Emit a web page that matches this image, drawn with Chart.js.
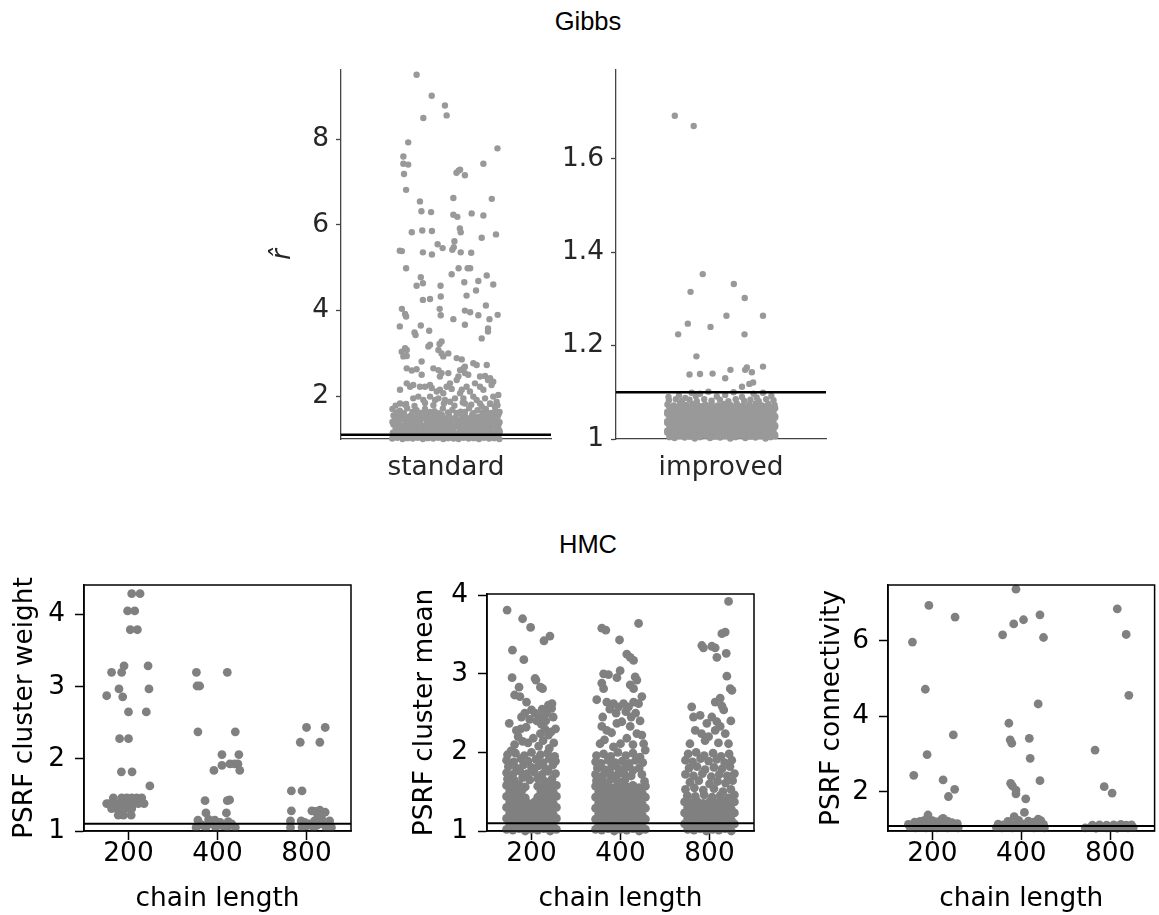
<!DOCTYPE html>
<html><head><meta charset="utf-8">
<script src="https://cdn.jsdelivr.net/npm/chart.js@4.4.0/dist/chart.umd.min.js"></script>
<style>
html,body{margin:0;padding:0;background:#fff;}
#wrap{position:relative;width:1159px;height:915px;overflow:hidden;background:#fff;}
canvas{position:absolute;left:0;top:0;}
.sup{position:absolute;font-family:'Liberation Sans',Arial,sans-serif;font-size:25.5px;color:#000;transform:translate(-50%,-50%);line-height:1;white-space:nowrap;}
</style></head><body>
<div id="wrap">
<div class="sup" style="left:588px;top:22px">Gibbs</div>
<div class="sup" style="left:588px;top:545px">HMC</div>
<canvas id="c0" width="1159" height="915"></canvas>
<canvas id="c1" width="1159" height="915"></canvas>
<canvas id="c2" width="1159" height="915"></canvas>
<canvas id="c3" width="1159" height="915"></canvas>
<canvas id="c4" width="1159" height="915"></canvas>
</div>
<script>
// ---------------- DATA ----------------
const gibbsCategories = ['standard', 'improved'];
const hmcCategories = ['200', '400', '800'];
const gibbsStdTicks = [2, 4, 6, 8];
const gibbsImpTicks = [1, 1.2, 1.4, 1.6];
const hmcWeightTicks = [1, 2, 3, 4];
const hmcMeanTicks = [1, 2, 3, 4];
const hmcConnTicks = [2, 4, 6];
const psrfThreshold = 1.1;

// each point: [jitter (category units), value]
const gibbsStandard = [
 [-0.14,9.51],[-0.068,9.02],[-0.005,8.79],[-0.108,8.5],[0.003,8.56],[-0.18,7.93],[0.245,7.79],[-0.203,7.6],[-0.203,7.43],[-0.18,7.41],
 [0.178,7.43],[-0.2,7.19],[0.06,7.27],[0.067,7.29],[0.05,7.22],[0.09,7.16],[-0.19,6.82],[-0.124,6.55],[0.035,6.63],[0.218,6.61],
 [-0.117,6.32],[-0.071,6.3],[0.035,6.24],[0.054,6.19],[0.122,6.27],[0.178,6.22],[-0.163,5.83],[-0.113,5.87],[-0.067,5.86],[0.066,5.92],
 [0.07,5.83],[0.17,5.7],[0.238,5.78],[-0.22,5.4],[-0.21,5.39],[-0.11,5.36],[-0.067,5.31],[-0.04,5.55],[-0.016,5.46],[0.03,5.42],
 [0.037,5.48],[0.04,5.62],[0.07,5.36],[0.12,5.35],[-0.19,4.99],[0.06,4.99],[0.103,4.99],[0.115,4.99],[-0.12,4.78],[-0.11,4.64],
 [-0.14,4.58],[-0.026,4.58],[0.027,4.85],[0.087,4.66],[0.143,4.47],[0.098,4.35],[0.154,4.69],[0.194,4.82],[0.225,4.61],[-0.11,4.25],
 [-0.076,4.27],[-0.025,4.33],[-0.21,4.04],[-0.195,3.92],[-0.19,3.86],[-0.03,4.04],[-0.025,3.89],[0.035,3.8],[0.09,4.0],[0.115,3.96],
 [0.154,3.89],[0.19,4.12],[0.207,3.8],[0.246,3.9],[-0.22,3.63],[-0.12,3.65],[-0.15,3.49],[-0.145,3.43],[-0.08,3.53],[0.09,3.67],
 [0.2,3.58],[0.2,3.51],[0.17,3.35],
 [-0.195,3.12],[-0.187,3.08],[-0.211,3.04],[-0.076,3.2],[-0.084,3.16],[-0.021,3.28],[-0.031,3.22],[-0.203,2.93],[-0.187,2.94],[-0.116,2.81],
 [-0.036,3.08],[-0.021,3.0],[-0.013,2.93],[0.011,3.0],[0.051,2.89],[0.075,2.86],[0.13,2.77],[0.146,2.73],[0.194,2.73],[0.067,2.61],
 [0.083,2.65],[0.09,2.69],[-0.187,2.65],[-0.163,2.6],[-0.14,2.63],[-0.116,2.5],[-0.06,2.65],[-0.036,2.61],[-0.021,2.54],[-0.029,2.46],
 [0.011,2.54],[0.059,2.46],[0.051,2.38],[0.09,2.54],[0.106,2.5],[0.162,2.46],[0.186,2.47],[0.21,2.42],[0.225,2.34],[-0.187,2.3],
 [-0.171,2.22],[-0.156,2.26],[-0.219,2.15],[-0.124,2.22],[-0.1,2.22],[-0.076,2.26],[-0.068,2.19],[-0.044,2.11],[-0.029,2.15],[-0.013,2.07],
 [0.003,2.22],[0.019,2.3],[0.027,2.17],[0.075,2.15],[0.098,2.22],[0.114,2.11],[0.138,2.3],[0.162,2.22],[0.178,2.15],[0.2,2.38],
 [0.217,2.26],[0.249,2.03],[0.225,1.99],[-0.156,1.95],[-0.132,1.99],[-0.108,1.91],[-0.219,1.83],[-0.195,1.8],[-0.076,1.99],[-0.052,1.91],
 [-0.036,1.95],[-0.005,1.91],[0.019,1.87],[0.043,1.95],[0.067,2.07],[0.083,1.95],[0.09,1.83],[0.13,1.99],[0.146,1.91],[0.162,1.83],
 [0.186,1.95],[0.21,1.83],[0.233,1.76],[0.241,1.87],
 [-0.24,1.78],[-0.19,1.82],[-0.15,1.77],[-0.1,1.84],[-0.06,1.79],[-0.01,1.83],[0.04,1.78],[0.08,1.85],[0.12,1.8],[0.17,1.76],[0.21,1.82],[0.245,1.79],
 [-0.255,1.7],[-0.22,1.66],[-0.185,1.72],[-0.14,1.67],[-0.1,1.7],[-0.055,1.65],[-0.015,1.71],[0.03,1.68],[0.07,1.64],[0.11,1.72],[0.15,1.67],[0.19,1.7],[0.235,1.66],
 [-0.235,1.62],[-0.2,1.6],[-0.16,1.63],[-0.12,1.61],[-0.075,1.63],[-0.035,1.6],[0.01,1.62],[0.05,1.61],[0.09,1.63],[0.13,1.6],[0.175,1.62],[0.215,1.61],[0.255,1.63],
 [-0.25,1.55],[-0.215,1.58],[-0.17,1.54],[-0.135,1.57],[-0.095,1.6],[-0.06,1.53],[-0.02,1.57],[0.015,1.55],[0.055,1.59],[0.09,1.54],[0.125,1.57],[0.16,1.52],[0.195,1.6],[0.225,1.56],[0.25,1.58],
 [-0.23,1.5],[-0.19,1.51],[-0.155,1.49],[-0.12,1.52],[-0.085,1.5],[-0.045,1.51],[-0.01,1.49],[0.045,1.5],[0.08,1.52],[0.115,1.49],[0.15,1.51],[0.18,1.49],[0.215,1.52],[0.245,1.5],
 [-0.245,1.44],[-0.21,1.47],[-0.18,1.43],[-0.145,1.46],[-0.11,1.48],[-0.07,1.44],[-0.035,1.46],[0.0,1.43],[0.03,1.47],[0.07,1.45],[0.1,1.42],[0.135,1.48],[0.165,1.44],[0.2,1.46],[0.235,1.43],
 [-0.255,1.4],[-0.225,1.39],[-0.19,1.41],[-0.16,1.4],[-0.125,1.39],[-0.09,1.41],[-0.055,1.4],[-0.02,1.39],[0.015,1.41],[0.05,1.39],[0.09,1.4],[0.12,1.41],[0.155,1.39],[0.185,1.41],[0.22,1.4],[0.255,1.39],
 [-0.25,1.34],[-0.222,1.37],[-0.196,1.33],[-0.16,1.36],[-0.13,1.38],[-0.1,1.32],[-0.075,1.35],[-0.04,1.37],[-0.01,1.33],[0.02,1.36],[0.05,1.34],[0.078,1.38],[0.105,1.32],[0.14,1.35],[0.17,1.37],[0.2,1.33],[0.228,1.36],[0.25,1.34],
 [-0.238,1.3],[-0.21,1.29],[-0.18,1.31],[-0.145,1.3],[-0.115,1.29],[-0.085,1.31],[-0.055,1.3],[-0.025,1.29],[0.005,1.31],[0.035,1.3],[0.065,1.29],[0.095,1.31],[0.125,1.3],[0.155,1.29],[0.185,1.31],[0.215,1.3],[0.245,1.29],
 [-0.24,1.24],[-0.215,1.27],[-0.19,1.23],[-0.165,1.26],[-0.14,1.24],[-0.115,1.28],[-0.09,1.22],[-0.065,1.25],[-0.04,1.27],[-0.015,1.23],[0.01,1.26],[0.035,1.24],[0.06,1.28],[0.085,1.22],[0.11,1.25],[0.135,1.27],[0.16,1.23],[0.185,1.26],[0.21,1.24],[0.235,1.28],[0.252,1.22],
 [-0.253,1.15],[-0.228,1.17],[-0.204,1.14],[-0.18,1.16],[-0.155,1.18],[-0.13,1.15],[-0.106,1.17],[-0.082,1.14],[-0.057,1.16],[-0.033,1.18],[-0.009,1.15],[0.016,1.17],[0.04,1.14],[0.064,1.16],[0.089,1.18],[0.113,1.15],[0.137,1.17],[0.162,1.14],[0.186,1.16],[0.21,1.18],[0.235,1.15],[0.256,1.17],
 [-0.244,1.08],[-0.22,1.06],[-0.195,1.09],[-0.171,1.07],[-0.147,1.08],[-0.122,1.1],[-0.098,1.06],[-0.074,1.09],[-0.049,1.07],[-0.025,1.08],[-0.001,1.1],[0.024,1.06],[0.048,1.08],[0.072,1.07],[0.096,1.09],[0.12,1.06],[0.145,1.08],[0.169,1.1],[0.193,1.07],[0.218,1.09],[0.242,1.06],
 [-0.256,1.01],[-0.232,1.03],[-0.207,1.0],[-0.183,1.02],[-0.158,1.01],[-0.134,1.03],[-0.11,1.0],[-0.086,1.02],[-0.061,1.01],[-0.037,1.03],[-0.013,1.0],[0.011,1.02],[0.036,1.01],[0.06,1.0],[0.084,1.03],[0.108,1.01],[0.132,1.02],[0.157,1.0],[0.181,1.03],[0.205,1.01],[0.23,1.02],[0.254,1.0]
];

const gibbsImproved = [
 [-0.22,1.692],[-0.13,1.67],[-0.087,1.353],[0.061,1.332],[-0.145,1.315],[0.113,1.302],[-0.158,1.247],[-0.05,1.24],[0.026,1.264],[0.2,1.264],
 [-0.204,1.224],[0.112,1.224],[-0.117,1.177],[-0.15,1.138],[-0.1,1.139],[-0.04,1.14],[0.02,1.13],[0.045,1.148],[0.123,1.153],[0.115,1.148],
 [0.147,1.143],[0.2,1.155],[0.1,1.112],[0.135,1.118],[0.153,1.121],
 [-0.14,1.099],[-0.1,1.097],[-0.06,1.101],[0.06,1.1],[0.2,1.099],[0.155,1.097],
 [-0.25,1.09],[-0.2,1.093],[-0.17,1.088],[-0.12,1.092],[-0.02,1.091],[0.02,1.094],[0.1,1.09],[0.17,1.089],[0.24,1.092],
 [-0.248,1.083],[-0.215,1.085],[-0.185,1.082],[-0.15,1.084],[-0.115,1.081],[-0.08,1.085],[-0.045,1.082],[-0.005,1.084],[0.035,1.081],[0.07,1.085],[0.11,1.082],[0.14,1.084],[0.18,1.081],[0.215,1.085],[0.25,1.083],
 [-0.255,1.074],[-0.225,1.072],[-0.195,1.076],[-0.165,1.073],[-0.135,1.075],[-0.105,1.071],[-0.075,1.074],[-0.045,1.076],[-0.015,1.072],[0.015,1.075],[0.045,1.073],[0.075,1.076],[0.105,1.071],[0.135,1.074],[0.165,1.076],[0.195,1.072],[0.225,1.075],[0.255,1.073],
 [-0.245,1.069],[-0.21,1.068],[-0.18,1.07],[-0.15,1.069],[-0.12,1.068],[-0.09,1.07],[-0.06,1.069],[-0.03,1.068],[0.0,1.07],[0.03,1.069],[0.06,1.068],[0.09,1.07],[0.12,1.069],[0.15,1.068],[0.18,1.07],[0.21,1.069],[0.24,1.068],
 [-0.245,1.064],[-0.221,1.062],[-0.197,1.066],[-0.173,1.063],[-0.149,1.065],[-0.125,1.061],[-0.1,1.064],[-0.076,1.067],[-0.052,1.062],[-0.028,1.065],[-0.004,1.063],[0.02,1.066],[0.044,1.061],[0.068,1.064],[0.092,1.067],[0.116,1.062],[0.14,1.065],[0.164,1.063],[0.188,1.066],[0.212,1.061],[0.236,1.064],[0.258,1.066],
 [-0.256,1.058],[-0.232,1.059],[-0.208,1.058],[-0.184,1.059],[-0.16,1.058],[-0.136,1.059],[-0.111,1.058],[-0.087,1.059],[-0.063,1.058],[-0.039,1.059],[-0.015,1.058],[0.009,1.059],[0.033,1.058],[0.057,1.059],[0.081,1.058],[0.105,1.059],[0.129,1.058],[0.153,1.059],[0.177,1.058],[0.201,1.059],[0.225,1.058],[0.249,1.059],
 [-0.256,1.054],[-0.232,1.052],[-0.208,1.056],[-0.184,1.053],[-0.16,1.055],[-0.136,1.051],[-0.111,1.054],[-0.087,1.057],[-0.063,1.052],[-0.039,1.055],[-0.015,1.053],[0.009,1.056],[0.033,1.051],[0.057,1.054],[0.081,1.057],[0.105,1.052],[0.129,1.055],[0.153,1.053],[0.177,1.056],[0.201,1.051],[0.225,1.054],[0.249,1.056],
 [-0.245,1.048],[-0.221,1.049],[-0.197,1.048],[-0.173,1.049],[-0.149,1.048],[-0.125,1.049],[-0.1,1.048],[-0.076,1.049],[-0.052,1.048],[-0.028,1.049],[-0.004,1.048],[0.02,1.049],[0.044,1.048],[0.068,1.049],[0.092,1.048],[0.116,1.049],[0.14,1.048],[0.164,1.049],[0.188,1.048],[0.212,1.049],[0.236,1.048],[0.258,1.049],
 [-0.245,1.044],[-0.221,1.042],[-0.197,1.046],[-0.173,1.043],[-0.149,1.045],[-0.125,1.041],[-0.1,1.044],[-0.076,1.047],[-0.052,1.042],[-0.028,1.045],[-0.004,1.043],[0.02,1.046],[0.044,1.041],[0.068,1.044],[0.092,1.047],[0.116,1.042],[0.14,1.045],[0.164,1.043],[0.188,1.046],[0.212,1.041],[0.236,1.044],[0.258,1.046],
 [-0.256,1.038],[-0.232,1.039],[-0.208,1.038],[-0.184,1.039],[-0.16,1.038],[-0.136,1.039],[-0.111,1.038],[-0.087,1.039],[-0.063,1.038],[-0.039,1.039],[-0.015,1.038],[0.009,1.039],[0.033,1.038],[0.057,1.039],[0.081,1.038],[0.105,1.039],[0.129,1.038],[0.153,1.039],[0.177,1.038],[0.201,1.039],[0.225,1.038],[0.249,1.039],
 [-0.256,1.034],[-0.232,1.032],[-0.208,1.036],[-0.184,1.033],[-0.16,1.035],[-0.136,1.031],[-0.111,1.034],[-0.087,1.037],[-0.063,1.032],[-0.039,1.035],[-0.015,1.033],[0.009,1.036],[0.033,1.031],[0.057,1.034],[0.081,1.037],[0.105,1.032],[0.129,1.035],[0.153,1.033],[0.177,1.036],[0.201,1.031],[0.225,1.034],[0.249,1.036],
 [-0.245,1.028],[-0.221,1.029],[-0.197,1.028],[-0.173,1.029],[-0.149,1.028],[-0.125,1.029],[-0.1,1.028],[-0.076,1.029],[-0.052,1.028],[-0.028,1.029],[-0.004,1.028],[0.02,1.029],[0.044,1.028],[0.068,1.029],[0.092,1.028],[0.116,1.029],[0.14,1.028],[0.164,1.029],[0.188,1.028],[0.212,1.029],[0.236,1.028],[0.258,1.029],
 [-0.245,1.024],[-0.221,1.022],[-0.197,1.026],[-0.173,1.023],[-0.149,1.025],[-0.125,1.021],[-0.1,1.024],[-0.076,1.027],[-0.052,1.022],[-0.028,1.025],[-0.004,1.023],[0.02,1.026],[0.044,1.021],[0.068,1.024],[0.092,1.027],[0.116,1.022],[0.14,1.025],[0.164,1.023],[0.188,1.026],[0.212,1.021],[0.236,1.024],[0.258,1.026],
 [-0.256,1.018],[-0.232,1.019],[-0.208,1.018],[-0.184,1.019],[-0.16,1.018],[-0.136,1.019],[-0.111,1.018],[-0.087,1.019],[-0.063,1.018],[-0.039,1.019],[-0.015,1.018],[0.009,1.019],[0.033,1.018],[0.057,1.019],[0.081,1.018],[0.105,1.019],[0.129,1.018],[0.153,1.019],[0.177,1.018],[0.201,1.019],[0.225,1.018],[0.249,1.019],
 [-0.256,1.014],[-0.232,1.012],[-0.208,1.016],[-0.184,1.013],[-0.16,1.015],[-0.136,1.011],[-0.111,1.014],[-0.087,1.017],[-0.063,1.012],[-0.039,1.015],[-0.015,1.013],[0.009,1.016],[0.033,1.011],[0.057,1.014],[0.081,1.017],[0.105,1.012],[0.129,1.015],[0.153,1.013],[0.177,1.016],[0.201,1.011],[0.225,1.014],[0.249,1.016],
 [-0.245,1.008],[-0.221,1.009],[-0.197,1.008],[-0.173,1.009],[-0.149,1.008],[-0.125,1.009],[-0.1,1.008],[-0.076,1.009],[-0.052,1.008],[-0.028,1.009],[-0.004,1.008],[0.02,1.009],[0.044,1.008],[0.068,1.009],[0.092,1.008],[0.116,1.009],[0.14,1.008],[0.164,1.009],[0.188,1.008],[0.212,1.009],[0.236,1.008],[0.258,1.009],
 [-0.245,1.004],[-0.221,1.002],[-0.197,1.006],[-0.173,1.003],[-0.149,1.005],[-0.125,1.001],[-0.1,1.004],[-0.076,1.007],[-0.052,1.002],[-0.028,1.005],[-0.004,1.003],[0.02,1.006],[0.044,1.001],[0.068,1.004],[0.092,1.007],[0.116,1.002],[0.14,1.005],[0.164,1.003],[0.188,1.006],[0.212,1.001],[0.236,1.004],[0.258,1.006]
];

const hmcWeight200 = [
 [-0.245,2.875],[-0.19,3.2],[-0.077,3.2],[-0.05,3.29],[-0.107,2.97],[-0.065,2.86],[0.0,2.65],[-0.1,2.28],[0.0,2.28],[-0.08,1.82],
 [0.04,1.82],[0.036,4.29],[0.13,4.29],[-0.01,4.05],[0.07,4.05],[0.02,3.79],[0.1,3.79],[0.22,3.29],[0.23,2.97],[0.2,2.65],[0.24,1.625],
 [-0.17,1.46],[-0.077,1.46],[-0.02,1.46],[0.036,1.46],[0.092,1.46],[0.149,1.46],
 [-0.245,1.38],[-0.21,1.38],[-0.115,1.38],[-0.05,1.38],[0.01,1.38],[0.055,1.38],[0.11,1.38],[0.175,1.38],
 [-0.19,1.31],[-0.133,1.31],[-0.077,1.31],[-0.03,1.31],[0.036,1.31],[-0.115,1.22],[-0.057,1.22],[0.03,1.22]
];
const hmcWeight400 = [
 [-0.237,3.2],[-0.23,3.01],[-0.2,3.01],[-0.22,2.375],[0.11,3.2],[0.2,2.375],[0.05,2.06],[0.24,2.06],
 [-0.04,1.84],[0.05,1.91],[0.14,1.93],[0.19,1.93],[0.23,1.93],[0.25,1.84],
 [-0.14,1.42],[0.11,1.42],[0.136,1.43],
 [-0.22,1.15],[-0.2,1.1],[-0.13,1.25],[-0.1,1.16],[-0.03,1.15],[0.03,1.12],[0.1,1.25],[0.12,1.13],[0.16,1.1],
 [-0.24,1.05],[-0.13,1.05],[-0.02,1.05],[0.11,1.05],[0.2,1.05],[-0.17,1.08],[0.06,1.07],[-0.06,1.1]
];
const hmcWeight800 = [
 [-0.07,2.23],[0.15,2.23],[0.0,2.435],[0.21,2.435],[-0.17,1.555],[-0.05,1.555],[-0.17,1.28],[0.06,1.28],[0.1,1.27],[0.15,1.29],
 [0.21,1.26],[0.13,1.2],[0.17,1.17],[-0.18,1.14],[-0.06,1.14],[-0.02,1.12],[0.03,1.1],[0.09,1.14],[0.26,1.14],[0.18,1.1],
 [0.28,1.05],[-0.18,1.05],[-0.05,1.05],[0.08,1.05],[0.22,1.05],[0.0,1.07],[0.12,1.08]
];

const hmcMean200 = [
 [-0.274,3.81],[-0.214,3.3],[-0.1,3.7],[-0.01,3.59],[-0.086,3.18],[0.14,3.42],[0.207,3.48],
 [-0.218,2.95],[0.04,2.94],[0.05,2.92],[0.1,2.83],[0.124,2.81],[-0.14,2.83],[-0.19,2.73],[-0.13,2.71],[-0.056,2.64],
 [-0.25,2.37],[-0.17,2.28],[-0.113,2.45],[-0.075,2.5],[0.0,2.54],[0.038,2.5],[0.094,2.45],[0.17,2.5],[0.226,2.56],[0.244,2.45],[0.23,2.62],
 [0.06,2.4],[0.11,2.36],[0.15,2.3],[0.19,2.22],[0.22,2.26],[-0.19,2.1],[-0.1,2.14],[-0.04,2.12],[0.02,2.18],[0.08,2.08],[0.13,2.15],
 [0.2,2.05],[0.25,2.12],[-0.23,2.02],[-0.15,2.2],[-0.06,2.32],[0.16,2.4],[0.12,2.55],[0.19,2.6],[-0.02,2.42],[0.27,2.3],[0.1,2.24],[-0.12,2.3],
 [-0.27,1.97],[-0.18,1.99],[-0.08,1.96],[0.0,2.0],[0.1,1.97],[0.18,1.99],[0.26,1.95],
 [-0.28,1.9],[-0.2,1.88],[-0.12,1.92],[-0.04,1.89],[0.05,1.91],[0.13,1.87],[0.2,1.92],[0.27,1.89],
 [-0.26,1.82],[-0.17,1.8],[-0.09,1.84],[0.0,1.81],[0.08,1.83],[0.16,1.79],[0.24,1.84],
 [-0.28,1.74],[-0.21,1.72],[-0.13,1.76],[-0.05,1.73],[0.03,1.75],[0.12,1.72],[0.19,1.76],[0.27,1.73],
 [-0.27,1.66],[-0.19,1.64],[-0.1,1.68],[-0.02,1.65],[0.07,1.67],[0.15,1.63],[0.23,1.66],
 [-0.28,1.58],[-0.21,1.57],[-0.14,1.59],[-0.07,1.56],[0.07,1.57],[0.14,1.59],[0.21,1.56],[0.28,1.58],
 [-0.245,1.51],[-0.175,1.5],[-0.105,1.52],[0.105,1.5],[0.175,1.52],[0.245,1.49],
 [-0.28,1.44],[-0.21,1.43],[-0.14,1.45],[-0.07,1.42],[0.07,1.43],[0.14,1.45],[0.21,1.42],[0.28,1.44],
 [-0.245,1.37],[-0.175,1.36],[-0.105,1.38],[-0.035,1.35],[0.035,1.37],[0.105,1.36],[0.175,1.38],[0.245,1.35],
 [-0.28,1.3],[-0.21,1.29],[-0.14,1.31],[-0.07,1.28],[0.0,1.3],[0.07,1.29],[0.14,1.31],[0.21,1.28],[0.28,1.3],
 [-0.245,1.23],[-0.175,1.22],[-0.105,1.24],[-0.035,1.21],[0.035,1.23],[0.105,1.22],[0.175,1.24],[0.245,1.21],
 [-0.28,1.16],[-0.21,1.15],[-0.14,1.17],[-0.07,1.14],[0.0,1.16],[0.07,1.15],[0.14,1.17],[0.21,1.14],[0.28,1.16],
 [-0.245,1.09],[-0.175,1.08],[-0.105,1.1],[-0.035,1.07],[0.035,1.09],[0.105,1.08],[0.175,1.1],[0.245,1.07],
 [-0.28,1.02],[-0.21,1.01],[-0.14,1.03],[-0.07,1.0],[0.0,1.02],[0.07,1.01],[0.14,1.03],[0.21,1.0],[0.28,1.02]
];
const hmcMean400 = [
 [-0.21,3.58],[-0.165,3.555],[-0.011,3.43],[0.071,3.25],[0.109,3.21],[0.147,3.17],[0.203,3.64],[-0.19,3.0],[-0.135,2.99],[-0.004,3.04],
 [-0.04,2.95],[0.165,2.96],[0.184,2.92],[-0.21,2.88],[-0.19,2.81],[0.109,2.86],[0.147,2.81],[-0.267,2.67],[0.24,2.71],
 [-0.154,2.64],[-0.079,2.62],[-0.023,2.58],[0.034,2.62],[0.09,2.58],[0.147,2.64],[0.203,2.62],[-0.12,2.55],[0.06,2.52],[0.17,2.5],
 [-0.21,2.33],[-0.154,2.28],[-0.041,2.37],[0.015,2.39],[0.109,2.33],[0.184,2.24],[0.24,2.22],[0.26,2.11],[0.278,2.03],
 [-0.23,2.11],[-0.18,2.16],[-0.079,2.07],[0.0,2.11],[0.071,2.18],[-0.1,2.25],[0.14,2.1],[-0.2,2.45],[0.12,2.45],[0.22,2.4],[-0.05,2.5],
 [-0.27,1.96],[-0.19,1.98],[-0.11,1.95],[-0.03,2.0],[0.06,1.96],[0.14,1.99],[0.22,1.94],
 [-0.28,1.88],[-0.22,1.86],[-0.14,1.9],[-0.06,1.87],[0.02,1.89],[0.1,1.86],[0.17,1.9],[0.25,1.87],
 [-0.26,1.8],[-0.18,1.78],[-0.1,1.82],[-0.02,1.79],[0.06,1.81],[0.14,1.77],[0.21,1.8],
 [-0.28,1.72],[-0.2,1.7],[-0.12,1.74],[-0.04,1.71],[0.04,1.73],[0.12,1.7],[0.24,1.72],
 [-0.27,1.64],[-0.19,1.62],[-0.11,1.66],[-0.03,1.63],[0.05,1.65],[0.27,1.63],
 [-0.28,1.57],[-0.21,1.56],[-0.14,1.58],[-0.07,1.55],[0.0,1.57],[0.07,1.56],[0.14,1.58],[0.21,1.55],[0.28,1.57],
 [-0.245,1.5],[-0.175,1.49],[-0.105,1.51],[-0.035,1.48],[0.035,1.5],[0.105,1.49],[0.175,1.51],[0.245,1.48],
 [-0.28,1.43],[-0.21,1.42],[-0.14,1.44],[-0.07,1.41],[0.0,1.43],[0.07,1.42],[0.14,1.44],[0.21,1.41],[0.28,1.43],
 [-0.245,1.36],[-0.175,1.35],[-0.105,1.37],[-0.035,1.34],[0.035,1.36],[0.105,1.35],[0.175,1.37],[0.245,1.34],
 [-0.28,1.29],[-0.21,1.28],[-0.14,1.3],[-0.07,1.27],[0.0,1.29],[0.07,1.28],[0.14,1.3],[0.21,1.27],[0.28,1.29],
 [-0.245,1.22],[-0.175,1.21],[-0.105,1.23],[-0.035,1.2],[0.035,1.22],[0.105,1.21],[0.175,1.23],[0.245,1.2],
 [-0.28,1.15],[-0.21,1.14],[-0.14,1.16],[-0.07,1.13],[0.0,1.15],[0.07,1.14],[0.14,1.16],[0.21,1.13],[0.28,1.15],
 [-0.245,1.08],[-0.175,1.07],[-0.105,1.09],[-0.035,1.06],[0.035,1.08],[0.105,1.07],[0.175,1.09],[0.245,1.06],
 [-0.28,1.02],[-0.21,1.01],[-0.14,1.03],[-0.07,1.0],[0.0,1.02],[0.07,1.01],[0.14,1.03],[0.21,1.0],[0.28,1.02]
];
const hmcMean800 = [
 [0.214,3.92],[-0.086,3.36],[-0.068,3.33],[0.026,3.35],[0.064,3.33],[0.139,3.51],[0.177,3.53],[0.083,3.21],[0.188,3.26],[0.195,2.97],
 [0.233,2.81],[0.252,2.79],[0.12,2.69],[0.064,2.64],[-0.2,2.58],[0.14,2.59],[0.16,2.54],
 [-0.18,2.45],[-0.105,2.47],[-0.03,2.37],[0.026,2.45],[0.083,2.39],[0.12,2.33],[-0.22,2.11],[-0.16,2.28],[-0.09,2.24],[-0.01,2.2],
 [0.064,2.28],[0.177,2.24],[0.214,2.11],[0.24,2.4],[-0.05,2.15],[0.1,2.12],
 [-0.24,1.98],[-0.15,2.0],[-0.06,1.96],[0.04,1.99],[0.13,1.95],[0.22,1.98],
 [-0.27,1.9],[-0.19,1.88],[-0.1,1.92],[-0.01,1.89],[0.08,1.91],[0.17,1.87],[0.25,1.9],
 [-0.23,1.8],[-0.14,1.82],[-0.05,1.78],[0.05,1.81],[0.14,1.79],[0.23,1.82],
 [-0.27,1.72],[-0.18,1.7],[-0.08,1.73],[0.02,1.69],[0.11,1.72],[0.2,1.7],[0.28,1.73],
 [-0.22,1.62],[-0.12,1.64],[0.0,1.6],[0.09,1.63],[0.18,1.61],[0.26,1.64],
 [-0.27,1.53],[-0.17,1.55],[-0.07,1.52],[0.05,1.54],[0.15,1.5],[0.24,1.53],
 [-0.25,1.45],[-0.16,1.44],[-0.06,1.46],[0.03,1.43],[0.12,1.45],[0.21,1.42],[0.28,1.46],
 [-0.28,1.37],[-0.21,1.36],[-0.14,1.38],[-0.07,1.35],[0.0,1.37],[0.07,1.36],[0.14,1.38],[0.21,1.35],[0.28,1.37],
 [-0.245,1.3],[-0.175,1.29],[-0.105,1.31],[-0.035,1.28],[0.035,1.3],[0.105,1.29],[0.175,1.31],[0.245,1.28],
 [-0.28,1.23],[-0.21,1.22],[-0.14,1.24],[-0.07,1.21],[0.0,1.23],[0.07,1.22],[0.14,1.24],[0.21,1.21],[0.28,1.23],
 [-0.245,1.16],[-0.175,1.15],[-0.105,1.17],[-0.035,1.14],[0.035,1.16],[0.105,1.15],[0.175,1.17],[0.245,1.14],
 [-0.28,1.09],[-0.21,1.08],[-0.14,1.1],[-0.07,1.07],[0.0,1.09],[0.07,1.08],[0.14,1.1],[0.21,1.07],[0.28,1.09],
 [-0.245,1.02],[-0.175,1.01],[-0.105,1.03],[-0.035,1.0],[0.035,1.02],[0.105,1.01],[0.175,1.03],[0.245,1.0]
];

const hmcConn200 = [
 [-0.225,5.97],[-0.04,6.94],[0.255,6.63],[-0.08,4.72],[0.235,3.51],[-0.06,2.99],[-0.21,2.44],[0.12,2.32],[0.25,2.07],[0.18,1.88],
 [-0.05,1.39],[0.12,1.3],[-0.2,1.2],[-0.14,1.22],[-0.09,1.25],[0.0,1.24],[0.05,1.21],[0.1,1.26],[0.17,1.23],[0.22,1.19],[0.28,1.16],
 [-0.27,1.14],[-0.22,1.12],[-0.16,1.13],[-0.1,1.14],[-0.04,1.12],[0.02,1.15],[0.08,1.12],[0.14,1.14],[0.2,1.12],[0.26,1.13],
 [-0.25,1.06],[-0.19,1.05],[-0.13,1.07],[-0.07,1.05],[-0.01,1.07],[0.05,1.05],[0.11,1.07],[0.17,1.05],[0.23,1.07],[0.29,1.05]
];
const hmcConn400 = [
 [-0.06,7.37],[-0.21,6.16],[-0.085,6.45],[0.025,6.56],[0.21,6.69],[0.25,6.09],[0.19,4.33],[-0.14,3.82],[-0.125,3.38],[-0.107,3.29],
 [0.09,3.42],[0.1,2.89],[0.21,2.3],[-0.12,2.23],[-0.1,2.16],[-0.06,2.05],[-0.06,1.95],[0.05,1.82],[0.035,1.46],[-0.08,1.35],
 [0.19,1.28],[0.22,1.24],[-0.15,1.22],[-0.03,1.25],[0.08,1.23],[0.14,1.2],[-0.26,1.15],[-0.2,1.13],[-0.12,1.15],[-0.06,1.12],
 [0.0,1.16],[0.06,1.13],[0.12,1.15],[0.18,1.12],[0.25,1.14],[-0.28,1.06],[-0.22,1.05],[-0.16,1.07],[-0.1,1.05],[-0.04,1.07],
 [0.02,1.05],[0.08,1.07],[0.14,1.05],[0.2,1.07],[0.26,1.05]
];
const hmcConn800 = [
 [0.08,6.85],[0.18,6.17],[0.21,4.56],[-0.17,3.11],[-0.067,2.14],[0.022,1.97],
 [-0.2,1.12],[-0.12,1.13],[-0.04,1.12],[0.04,1.13],[0.12,1.14],[0.18,1.12],[0.24,1.13],
 [-0.28,1.05],[-0.22,1.06],[-0.16,1.04],[-0.1,1.06],[-0.04,1.05],[0.02,1.06],[0.08,1.04],[0.14,1.06],[0.2,1.05],[0.26,1.06]
];

// ---------------- RENDER ----------------
const FONT = 'DejaVu Sans';
const FS = 26.4;

const framePlugin = {
  id: 'frame',
  afterDraw(chart, args, opts) {
    if (!opts || !opts.show) return;
    const a = chart.chartArea, ctx = chart.ctx;
    ctx.save();
    ctx.strokeStyle = opts.color; ctx.lineWidth = opts.width;
    ctx.strokeRect(a.left, a.top, a.right - a.left, a.bottom - a.top);
    ctx.restore();
  }
};

function makePanel(p) {
  const W = 1159, H = 915;
  const a = p.area;
  const yW = a.l - p.yLeft;
  const xH = p.xBottom - a.b;
  const isG = p.style === 'gibbs';
  const axisCol = isG ? '#444' : '#000';
  const txtCol = isG ? '#262626' : '#000';
  const axisW = isG ? 1.3 : 1.5;
  const datasets = [{
    data: [{x: p.xMin, y: psrfThreshold}, {x: p.xMax, y: psrfThreshold}],
    showLine: true, borderColor: '#000', borderWidth: p.thrWidth, pointRadius: 0, order: 0
  }];
  p.groups.forEach((g, gi) => {
    datasets.push({
      data: g.map(pt => ({x: gi + pt[0], y: pt[1]})),
      showLine: false, pointRadius: p.radius, pointBorderWidth: 0,
      backgroundColor: p.color, borderColor: p.color, pointBackgroundColor: p.color,
      clip: false, order: 1
    });
  });
  const font = {family: FONT, size: FS};
  new Chart(document.getElementById(p.id), {
    type: 'scatter',
    data: {datasets},
    plugins: [framePlugin],
    options: {
      responsive: false, animation: false, devicePixelRatio: 1,
      layout: {padding: {left: p.yLeft, top: a.t, right: W - a.r, bottom: H - p.xBottom}},
      plugins: {legend: {display: false}, tooltip: {enabled: false}, title: {display: false},
                frame: {show: !isG, color: '#000', width: 1.5}},
      scales: {
        x: {
          type: 'linear', position: 'bottom', min: p.xMin, max: p.xMax,
          afterBuildTicks: s => { s.ticks = p.xTicks.map(v => ({value: v})); },
          afterFit: s => { s.height = xH; },
          ticks: {callback: (v, i) => p.xLabels[i], font, color: txtCol, padding: p.xTickPad, autoSkip: false, maxRotation: 0},
          grid: isG ? {display: false, drawTicks: false} : {display: true, drawOnChartArea: false, drawTicks: true, tickLength: 9, tickWidth: 1.5, tickColor: '#000'},
          border: {display: true, color: axisCol, width: axisW},
          title: p.xTitle ? {display: true, text: p.xTitle, font, color: txtCol, padding: 0} : {display: false}
        },
        y: {
          type: 'linear', position: 'left', min: p.yMin, max: p.yMax,
          afterBuildTicks: s => { s.ticks = p.yTicks.map(v => ({value: v})); },
          afterFit: s => { s.width = yW; },
          ticks: {callback: v => String(v), font, color: txtCol, padding: p.yTickPad, autoSkip: false},
          grid: {display: true, drawOnChartArea: false, drawTicks: true, tickLength: isG ? 5 : 9, tickWidth: isG ? 1.3 : 1.5, tickColor: axisCol},
          border: {display: true, color: axisCol, width: axisW},
          title: p.yTitle ? {display: true, text: p.yTitle, font: p.yTitleFont || font, color: txtCol, padding: 0} : {display: false}
        }
      }
    }
  });
}

const panels = [
  {id: 'c0', style: 'gibbs', area: {l: 341, t: 70, r: 551, b: 439}, yLeft: 267, xBottom: 499,
   xMin: -0.5, xMax: 0.5, yMin: 1, yMax: 9.62, xTicks: [0], xLabels: [gibbsCategories[0]], yTicks: gibbsStdTicks,
   groups: [gibbsStandard], color: '#999999', radius: 3.2, thrWidth: 2.5, xTickPad: 13, yTickPad: 7,
   yTitle: 'r\u0302', yTitleFont: {family: FONT, size: FS, style: 'italic'}, xTitle: null},
  {id: 'c1', style: 'gibbs', area: {l: 616, t: 70, r: 826, b: 439}, yLeft: 536, xBottom: 499,
   xMin: -0.5, xMax: 0.5, yMin: 1, yMax: 1.79, xTicks: [0], xLabels: [gibbsCategories[1]], yTicks: gibbsImpTicks,
   groups: [gibbsImproved], color: '#999999', radius: 3.2, thrWidth: 2.5, xTickPad: 13, yTickPad: 7,
   yTitle: null, xTitle: null},
  {id: 'c2', style: 'hmc', area: {l: 84, t: 585, r: 351, b: 831}, yLeft: 9, xBottom: 915,
   xMin: -0.5, xMax: 2.5, yMin: 1, yMax: 4.41, xTicks: [0, 1, 2], xLabels: hmcCategories, yTicks: hmcWeightTicks,
   groups: [hmcWeight200, hmcWeight400, hmcWeight800], color: '#808080', radius: 4.4, thrWidth: 2, xTickPad: -2, yTickPad: 10,
   yTitle: 'PSRF cluster weight', xTitle: 'chain length'},
  {id: 'c3', style: 'hmc', area: {l: 487, t: 594, r: 754, b: 831}, yLeft: 409, xBottom: 915,
   xMin: -0.5, xMax: 2.5, yMin: 1, yMax: 4.015, xTicks: [0, 1, 2], xLabels: hmcCategories, yTicks: hmcMeanTicks,
   groups: [hmcMean200, hmcMean400, hmcMean800], color: '#808080', radius: 4.4, thrWidth: 2, xTickPad: -2, yTickPad: 10,
   yTitle: 'PSRF cluster mean', xTitle: 'chain length'},
  {id: 'c4', style: 'hmc', area: {l: 888, t: 585, r: 1158, b: 831}, yLeft: 816, xBottom: 915,
   xMin: -0.5, xMax: 2.5, yMin: 0.967, yMax: 7.48, xTicks: [0, 1, 2], xLabels: hmcCategories, yTicks: hmcConnTicks,
   groups: [hmcConn200, hmcConn400, hmcConn800], color: '#808080', radius: 4.4, thrWidth: 2, xTickPad: -2, yTickPad: 10,
   yTitle: 'PSRF connectivity', xTitle: 'chain length'}
];
panels.forEach(makePanel);
</script>
</body></html>
